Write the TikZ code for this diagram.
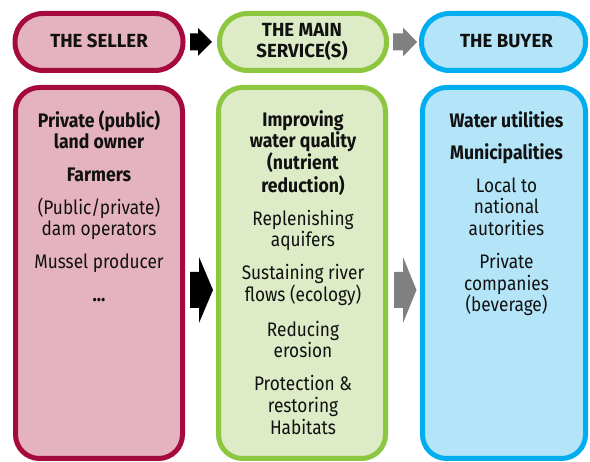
\documentclass[tikz,border=0pt]{standalone}
\usepackage{fontspec}
\setmainfont[FakeStretch=0.88]{Fira Sans}
\newfontfamily\titlefont[FakeStretch=0.98]{Fira Sans}
\newfontfamily\boldfont[FakeStretch=0.9]{Fira Sans}
\usetikzlibrary{calc}
\definecolor{sellerline}{HTML}{A50A3D}
\definecolor{sellerfill}{HTML}{E5B3C0}
\definecolor{serviceline}{HTML}{8DC63F}
\definecolor{servicefill}{HTML}{DDEBC6}
\definecolor{buyerline}{HTML}{00AEEF}
\definecolor{buyerfill}{HTML}{B3E4F8}
\definecolor{arrowgray}{HTML}{808080}
\definecolor{ink}{HTML}{111111}
\tikzset{
  hdr/.style={draw, line width=5pt, rounded corners=28pt, minimum height=57pt, inner sep=0pt, outer sep=0pt},
  col/.style={draw, line width=5pt, rounded corners=24pt, minimum height=371pt, inner sep=0pt, outer sep=0pt},
  txt/.style={anchor=base, inner sep=0pt, text=ink, font=\fontsize{19.6}{21.5}\selectfont},
  btxt/.style={anchor=base, inner sep=0pt, text=ink, font=\boldfont\fontsize{19.6}{21.5}\selectfont\bfseries},
  ttl/.style={anchor=base, inner sep=0pt, text=ink, font=\titlefont\fontsize{19}{21.5}\selectfont\bfseries},
}
\begin{document}
\begin{tikzpicture}[x=1pt,y=-1pt]
\useasboundingbox (0,0) rectangle (590,462);
% header boxes
\node[hdr, fill=sellerfill, draw=sellerline, minimum width=168pt] (sh) at (99,42) {};
\node[hdr, fill=servicefill, draw=serviceline, minimum width=167pt] (vh) at (303,42) {};
\node[hdr, fill=buyerfill, draw=buyerline, minimum width=164pt] (bh) at (503.5,42) {};
% column boxes
\node[col, fill=sellerfill, draw=sellerline, minimum width=167pt] (sc) at (99,273) {};
\node[col, fill=servicefill, draw=serviceline, minimum width=167pt] (vc) at (302,273) {};
\node[col, fill=buyerfill, draw=buyerline, minimum width=163pt] (bc) at (504,273) {};
% titles
\node[ttl] (t1) at (99,47.5) {THE SELLER};
\node[ttl] (t2a) at (302,37) {THE MAIN};
\node[ttl] (t2b) at (302,58) {SERVICE(S)};
\node[ttl] (t3) at (506.5,47.5) {THE BUYER};
% arrows top
\fill[black] ($(sh.east)+(7,-8.5)$) -- ++(8,0) -- ++(0,-5.5) -- ++(14,14) -- ++(-14,14) -- ++(0,-5.5) -- ++(-8,0) -- cycle;
\fill[arrowgray] ($(vh.east)+(6.5,-8.5)$) -- ++(10,0) -- ++(0,-6) -- ++(14,14.5) -- ++(-14,14.5) -- ++(0,-6) -- ++(-10,0) -- cycle;
% arrows bottom
\fill[black] ($(sc.east)+(7.5,17-18)$) -- ++(9,0) -- ++(0,-15) -- ++(14,33) -- ++(-14,33) -- ++(0,-15) -- ++(-9,0) -- cycle;
\fill[arrowgray] ($(vc.east)+(8.5,17-18)$) -- ++(9,0) -- ++(0,-15) -- ++(13.5,33) -- ++(-13.5,33) -- ++(0,-15) -- ++(-9,0) -- cycle;
\begin{scope}[shift={(0,1.5)}]
% seller text
\node[btxt] (s1) at (99,126) {Private (public)};
\node[btxt] (s2) at (99,147.5) {land owner};
\node[btxt] (s3) at (99,180) {Farmers};
\node[txt] (s4) at (99,213) {(Public/private)};
\node[txt] (s5) at (99,234) {dam operators};
\node[txt] (s6) at (99,266.7) {Mussel producer};
\node[btxt] (s7) at (99,300.5) {...};
% service text
\node[btxt] (v1) at (303,125) {Improving};
\node[btxt] (v2) at (303,146.5) {water quality};
\node[btxt] (v3) at (303,168.5) {(nutrient};
\node[btxt] (v4) at (303,191) {reduction)};
\node[txt] (v5) at (303,224) {Replenishing};
\node[txt] (v6) at (303,245.5) {aquifers};
\node[txt] (v7) at (303,278) {Sustaining river};
\node[txt] (v8) at (303,300) {flows (ecology)};
\node[txt] (v9) at (303,335) {Reducing};
\node[txt] (v10) at (303,356) {erosion};
\node[txt] (v11) at (303,389.3) {Protection \&};
\node[txt] (v12) at (303,411) {restoring};
\node[txt] (v13) at (303,432.7) {Habitats};
% buyer text
\node[btxt] (b1) at (506.5,126) {Water utilities};
\node[btxt] (b2) at (506.5,158) {Municipalities};
\node[txt] (b3) at (506.5,191) {Local to};
\node[txt] (b4) at (506.5,212.5) {national};
\node[txt] (b5) at (506.5,234) {autorities};
\node[txt] (b6) at (506.5,267.5) {Private};
\node[txt] (b7) at (506.5,289) {companies};
\node[txt] (b8) at (506.5,310) {(beverage)};
\end{scope}
\end{tikzpicture}
\end{document}
